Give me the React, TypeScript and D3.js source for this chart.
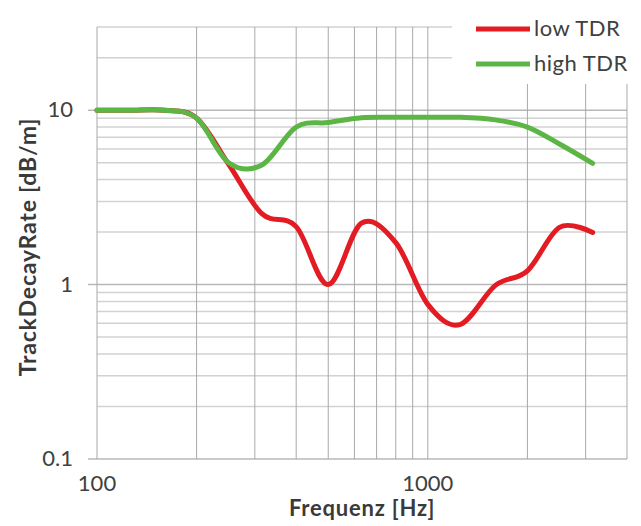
import React, { useEffect, useRef } from 'react';
import * as d3 from 'd3';

// third-octave band centre frequencies [Hz]
const freqs = [100, 125, 160, 200, 250, 315, 400, 500, 630, 800, 1000, 1250, 1600, 2000, 2500, 3150];
// track decay rate [dB/m]
const lowTDR = [10, 10, 10, 9.0, 4.9, 2.55, 2.15, 1.0, 2.25, 1.74, 0.77, 0.59, 0.99, 1.2, 2.13, 1.99];
const highTDR = [10, 10, 10, 9.0, 5.0, 4.85, 8.0, 8.5, 9.05, 9.1, 9.1, 9.1, 8.8, 8.0, 6.4, 4.96];

const xTicks = [100, 1000];
const yTicks = [0.1, 1, 10];
const seriesNames = ['low TDR', 'high TDR'];
const seriesColors = ['#e31b23', '#5cb646'];

const W = 641;
const H = 526;
const FONT = 'Lato, "Open Sans", sans-serif';

const App = () => {
    const svgRef = useRef<SVGSVGElement | null>(null);

    useEffect(() => {
        const svg = d3.select(svgRef.current);
        svg.selectAll('*').remove();

        const margin = { top: 27, right: 14, bottom: 67, left: 97 };
        const innerW = W - margin.left - margin.right;
        const innerH = H - margin.top - margin.bottom;

        const x = d3.scaleLog().domain([100, 4000]).range([0, innerW]);
        const y = d3.scaleLog().domain([0.1, 30]).range([innerH, 0]);

        svg.append('rect').attr('width', W).attr('height', H).attr('fill', '#fff');

        const g = svg.append('g').attr('transform', `translate(${margin.left},${margin.top})`);

        // horizontal grid (every 1..9 of each decade)
        const yGrid: number[] = [];
        [0.1, 1, 10].forEach(d => {
            for (let k = 1; k <= 9; k++) {
                const v = +(d * k).toPrecision(3);
                if (v <= 30) yGrid.push(v);
            }
        });
        g.selectAll('.hgrid')
            .data(yGrid)
            .enter().append('line')
            .attr('x1', d => (yTicks.includes(d) ? -9 : 0))
            .attr('x2', innerW)
            .attr('y1', d => y(d))
            .attr('y2', d => y(d))
            .attr('stroke', d => (yTicks.includes(d) ? '#b8b8b8' : '#d2d2d2'))
            .attr('stroke-width', 1.5);

        // vertical grid
        const xGrid: number[] = [];
        [100, 1000].forEach(d => {
            for (let k = 1; k <= 9; k++) {
                const v = d * k;
                if (v <= 4000) xGrid.push(v);
            }
        });
        g.selectAll('.vgrid')
            .data(xGrid)
            .enter().append('line')
            .attr('x1', d => x(d))
            .attr('x2', d => x(d))
            .attr('y1', 0)
            .attr('y2', innerH)
            .attr('stroke', '#a9a9a9')
            .attr('stroke-width', 1);

        // tick labels
        g.selectAll('.ylab')
            .data(yTicks)
            .enter().append('text')
            .attr('x', -24)
            .attr('y', d => y(d) + 7)
            .attr('text-anchor', 'end')
            .style('font-family', FONT)
            .style('font-size', '22px')
            .style('fill', '#404040')
            .text(d => String(d));

        g.selectAll('.xlab')
            .data(xTicks)
            .enter().append('text')
            .attr('x', d => x(d))
            .attr('y', innerH + 32)
            .attr('text-anchor', 'middle')
            .style('font-family', FONT)
            .style('font-size', '22px')
            .style('fill', '#404040')
            .text(d => String(d));

        // axis titles
        svg.append('text')
            .attr('x', margin.left + innerW / 2)
            .attr('y', 516)
            .attr('text-anchor', 'middle')
            .style('font-family', FONT)
            .style('font-size', '22px')
            .style('letter-spacing', '0.8px')
            .style('font-weight', 'bold')
            .style('fill', '#3a3a3a')
            .text('Frequenz [Hz]');

        svg.append('text')
            .attr('transform', `translate(36,247) rotate(-90)`)
            .attr('text-anchor', 'middle')
            .style('font-family', FONT)
            .style('font-size', '23px')
            .style('letter-spacing', '0.8px')
            .style('font-weight', 'bold')
            .style('fill', '#3a3a3a')
            .text('TrackDecayRate [dB/m]');

        // curves (Excel style smoothing)
        const line = d3.line<[number, number]>()
            .x(d => x(d[0]))
            .y(d => y(d[1]))
            .curve(d3.curveCardinal.tension(0));

        [lowTDR, highTDR].forEach((vals, i) => {
            g.append('path')
                .datum(freqs.map((f, j) => [f, vals[j]] as [number, number]))
                .attr('fill', 'none')
                .attr('stroke', seriesColors[i])
                .attr('stroke-width', 5)
                .attr('stroke-linejoin', 'round')
                .attr('stroke-linecap', 'round')
                .attr('d', line);
        });

        // legend
        const lg = svg.append('g');
        lg.append('rect')
            .attr('x', 452).attr('y', 0)
            .attr('width', 189).attr('height', 84)
            .attr('fill', '#fff');
        seriesNames.forEach((name, i) => {
            const ly = 29 + i * 35;
            lg.append('line')
                .attr('x1', 476).attr('x2', 530)
                .attr('y1', ly).attr('y2', ly)
                .attr('stroke', seriesColors[i])
                .attr('stroke-width', 5);
            lg.append('text')
                .attr('x', 534)
                .attr('y', ly + 7)
                .style('font-family', FONT)
                .style('font-size', '22px')
                .style('letter-spacing', '0.5px')
                .style('fill', '#404040')
                .text(name);
        });
    }, []);

    return (
        <div style={{ position: 'absolute', left: 0, top: 0 }}>
            <svg ref={svgRef} width={W} height={H} style={{ display: 'block' }} />
        </div>
    );
};

export default App;
